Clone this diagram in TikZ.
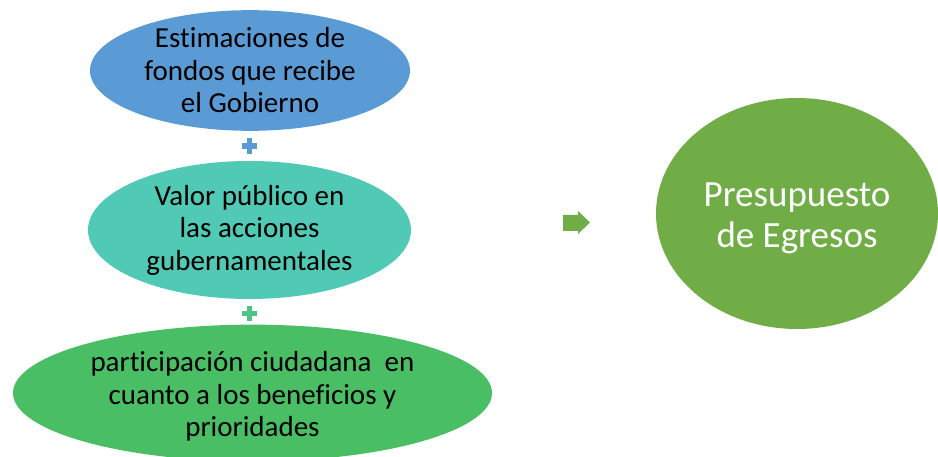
\documentclass[tikz,border=0pt]{standalone}
\usepackage{fontspec}
\setmainfont{Carlito}[Ligatures={NoCommon}]
\usetikzlibrary{shapes.geometric}
\definecolor{cblue}{RGB}{91,155,213}
\definecolor{cteal}{RGB}{80,201,181}
\definecolor{cgreen}{RGB}{74,190,100}
\definecolor{cbig}{RGB}{112,173,71}
\definecolor{cplustwo}{RGB}{77,196,130}
\tikzset{
  oval/.style={ellipse, draw=none, inner sep=0pt, align=center, text=black,
    font=\fontsize{29}{32.5}\selectfont},
}
\newcommand{\plusat}[3]{%
  \fill[#3] ({#1-7.3},{#2-2.9}) rectangle ({#1+7.3},{#2+2.9});
  \fill[#3] ({#1-2.9},{#2-7.8}) rectangle ({#1+2.9},{#2+7.8});}
\begin{document}
\begin{tikzpicture}[x=1pt,y=-1pt]
\useasboundingbox (0,0) rectangle (938,457);
\node[oval, fill=cblue, minimum width=320pt, minimum height=119pt] (e1) at (250,70.5)
  {Estimaciones de\\fondos que recibe\\el Gobierno};
\node[oval, fill=cteal, minimum width=323pt, minimum height=138pt] (e2) at (249.5,230)
  {Valor público en\\las acciones\\gubernamentales};
\node[oval, fill=cgreen, minimum width=479pt, minimum height=128pt] (e3) at (252.5,393)
  {\rule{0pt}{27pt}participación ciudadana\ \ en\\cuanto a los beneficios y\\prioridades};
\node[ellipse, fill=cbig, draw=none, inner sep=0pt, minimum width=282pt, minimum height=231pt,
  text=white, align=center, font=\fontsize{37}{41}\selectfont] (pe) at (797,213.5)
  {\rule{0pt}{34pt}Presupuesto\\de Egresos};
\plusat{249.5}{146.3}{cblue}
\plusat{249.5}{313.5}{cplustwo}
\fill[cbig] (563,215) -- (578,215) -- (578,211) -- (590,222.5) -- (578,234) -- (578,231) -- (563,231) -- cycle;
\end{tikzpicture}
\end{document}
